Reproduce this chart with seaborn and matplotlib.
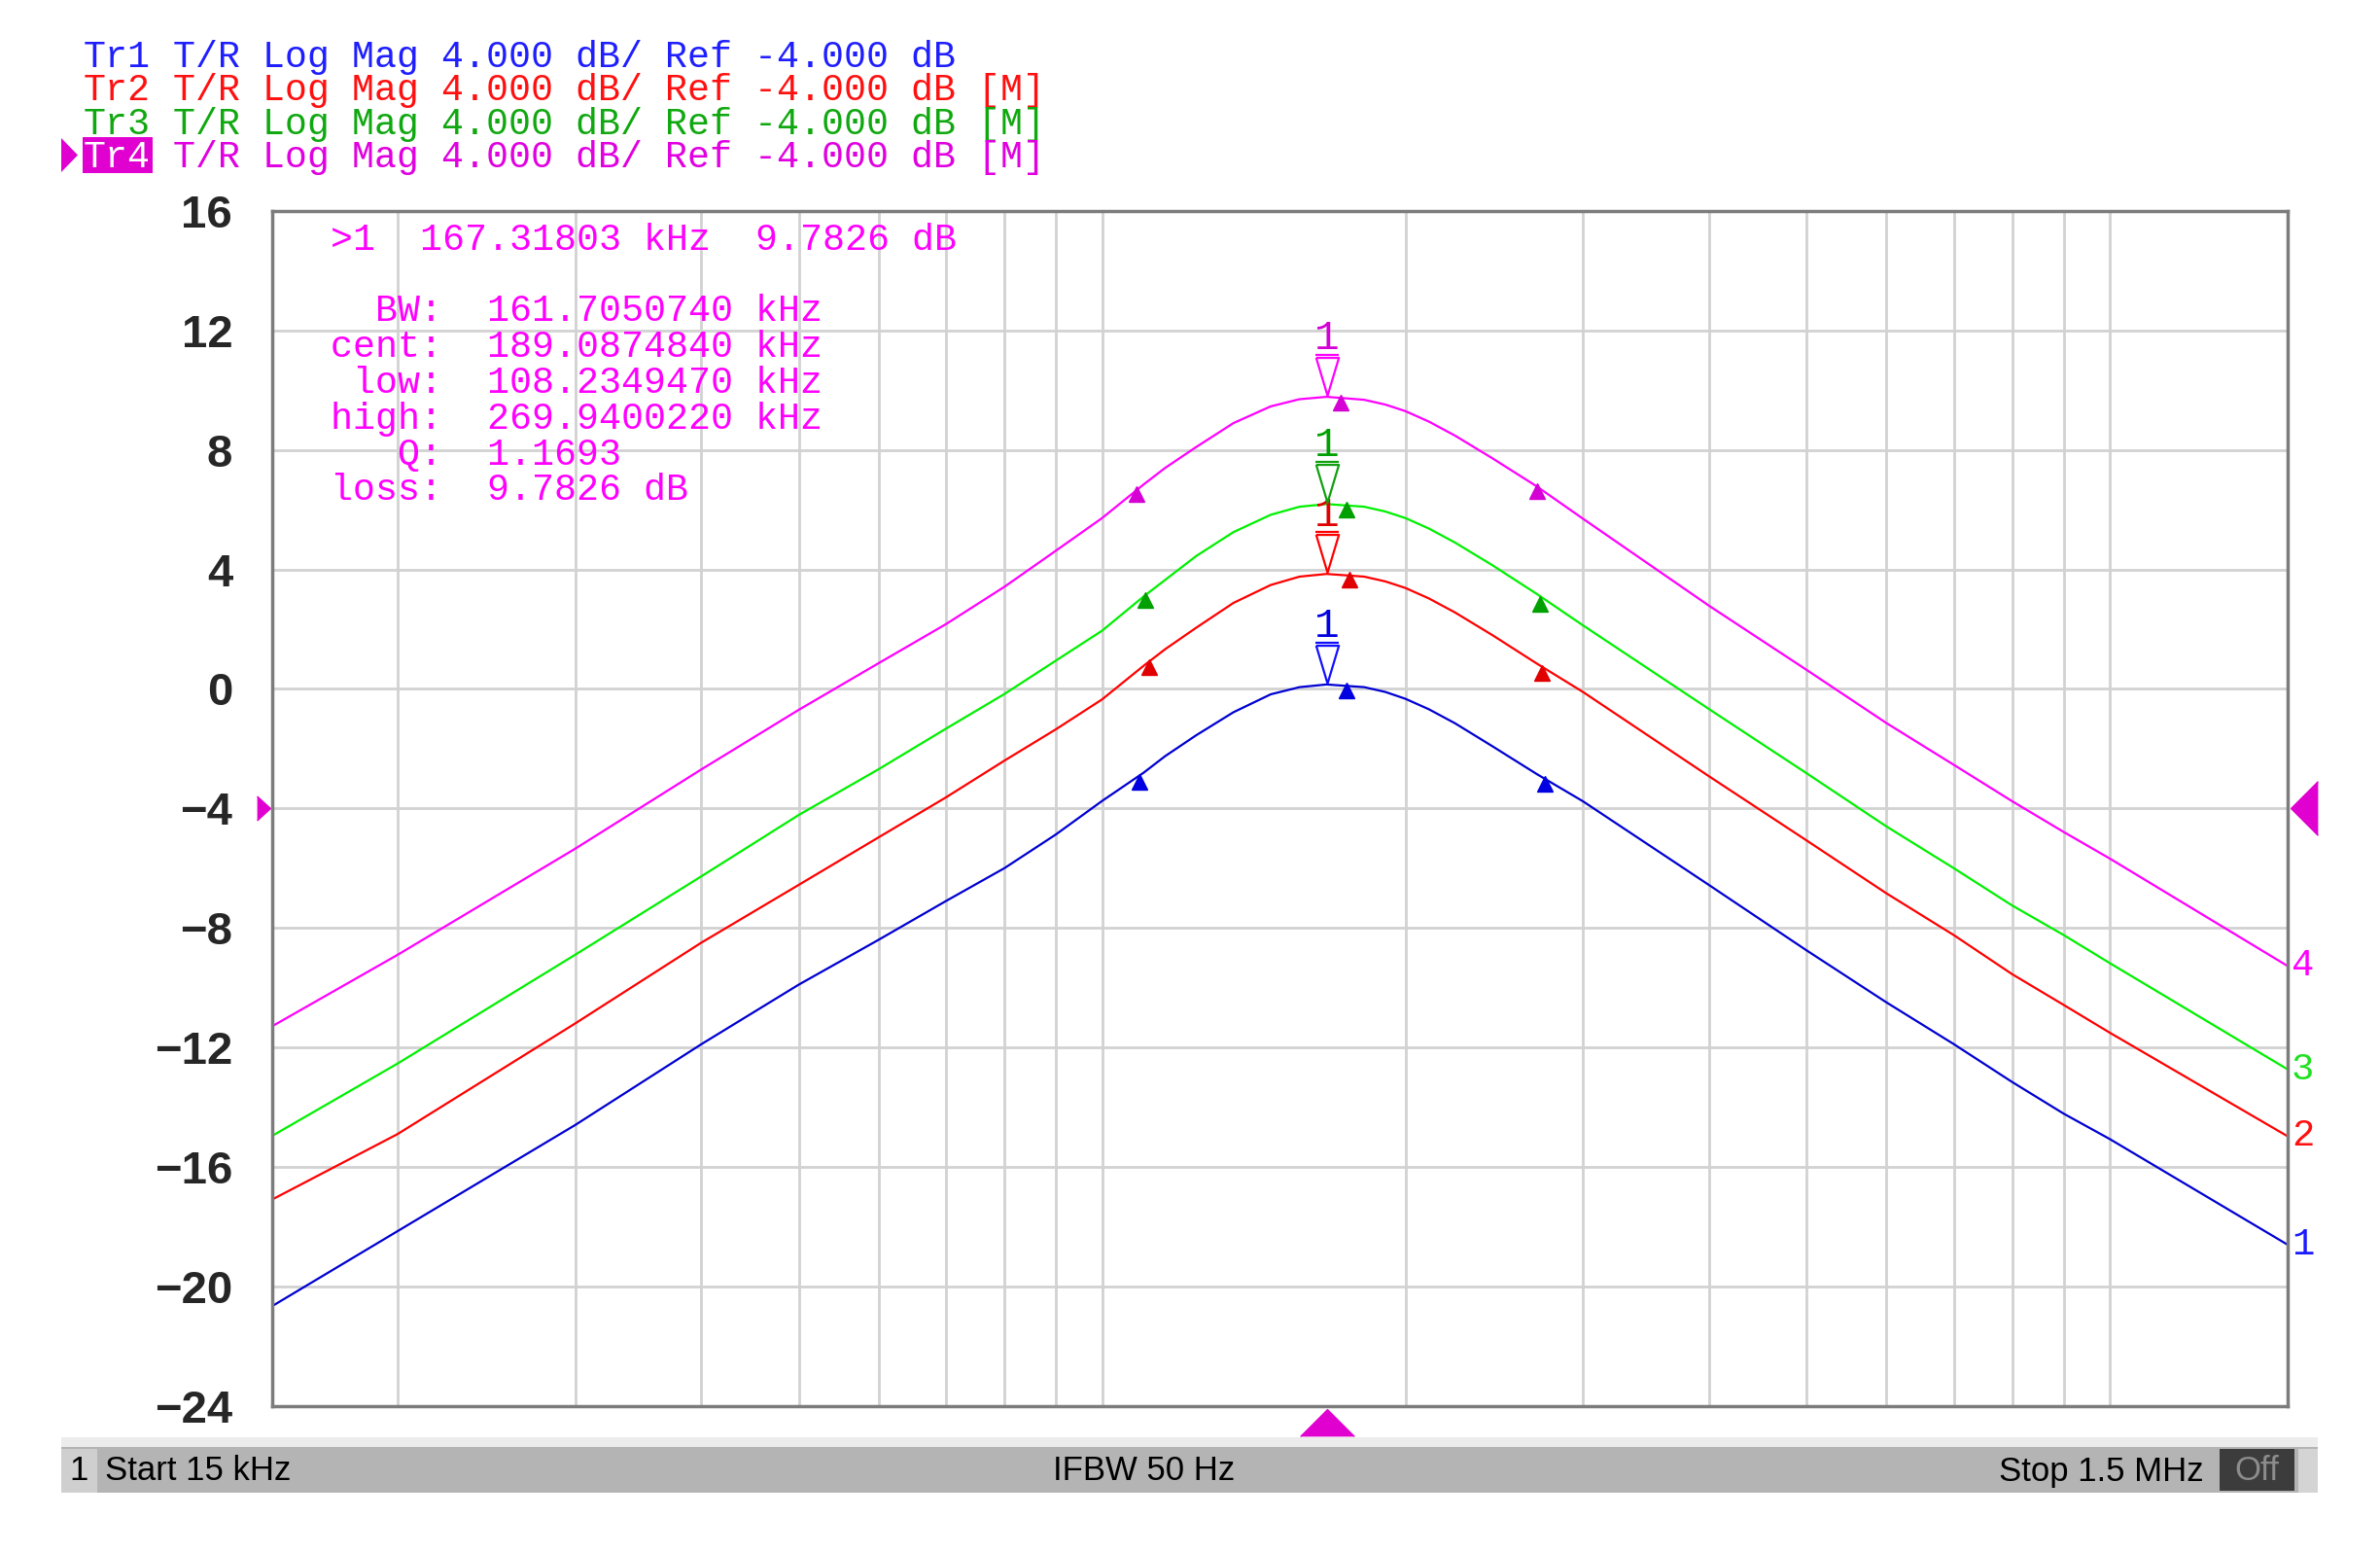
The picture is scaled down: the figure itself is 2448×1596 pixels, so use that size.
import matplotlib
matplotlib.use("Agg")
import matplotlib.pyplot as plt
import matplotlib.transforms as mtransforms
from matplotlib.patches import Rectangle, Polygon
from matplotlib.ticker import NullFormatter
import seaborn as sns
import pandas as pd

# frequency points (kHz), same grid for all four traces
freq_khz = [15, 20, 30, 40, 50, 60, 70, 80, 90, 100, 110, 115.5, 124, 135, 147, 157, 167,
            182, 191, 200, 211, 224, 244, 270, 300, 400, 500, 600, 700, 800, 900, 1000, 1500]
tr1_db = [-20.67, -18.15, -14.6, -11.9, -9.9, -8.4, -7.1, -6.0, -4.87, -3.75, -2.8,
          -2.25, -1.55, -0.78, -0.18, 0.06, 0.15, 0.06, -0.1, -0.33, -0.68, -1.15, -1.92,
          -2.85, -3.76, -6.56, -8.75, -10.49, -11.89, -13.16, -14.22, -15.07, -18.6]
tr2_db = [-17.1, -14.9, -11.2, -8.5, -6.56, -4.97, -3.63, -2.4, -1.35, -0.35, 0.78,
          1.33, 2.05, 2.88, 3.48, 3.76, 3.85, 3.76, 3.6, 3.38, 3.03, 2.56, 1.8,
          0.85, -0.1, -2.92, -5.07, -6.84, -8.24, -9.55, -10.58, -11.51, -14.97]
tr3_db = [-14.97, -12.54, -8.9, -6.28, -4.22, -2.69, -1.33, -0.17, 0.95, 1.95, 3.1,
          3.65, 4.45, 5.25, 5.83, 6.1, 6.19, 6.1, 5.94, 5.72, 5.37, 4.9, 4.14,
          3.18, 2.13, -0.67, -2.82, -4.6, -6.0, -7.25, -8.24, -9.18, -12.73]
tr4_db = [-11.3, -8.9, -5.35, -2.7, -0.7, 0.86, 2.17, 3.42, 4.63, 5.72, 6.85,
          7.4, 8.1, 8.9, 9.46, 9.7, 9.78, 9.68, 9.52, 9.3, 8.95, 8.48, 7.72,
          6.78, 5.7, 2.79, 0.64, -1.14, -2.54, -3.76, -4.79, -5.68, -9.27]

traces = ["Tr1", "Tr2", "Tr3", "Tr4"]
trace_db = [tr1_db, tr2_db, tr3_db, tr4_db]
trace_colors = ["#0000d2", "#ff0000", "#00f000", "#ff00ff"]
head_colors = ["#1e1eff", "#ff1010", "#10a810", "#e000e0"]
tri_colors = ["#0000e0", "#e00000", "#00a000", "#d400d4"]
open_colors = ["#1010ff", "#ff0000", "#10a010", "#ff00ff"]
num_colors = ["#1a1aff", "#ff1010", "#20e020", "#ff00ff"]

# marker 1 (167.31803 kHz) and bandwidth search triangles, per trace
mk1_khz = 167.31803
mk1_db = [0.15, 3.85, 6.19, 9.78]
bw_low_khz = [108.8, 111.4, 110.4, 108.2]
bw_low_db = [-2.95, 0.9, 3.15, 6.7]
bw_mid_khz = [175, 176, 175, 172.5]
bw_mid_db = [0.1, 3.82, 6.17, 9.75]
bw_high_khz = [275, 273, 272, 270]
bw_high_db = [-3.0, 0.7, 3.0, 6.78]

y_ticks = list(range(-24, 17, 4))
ref_level = -4
header_names = ["Tr1", "Tr2", "Tr3", "Tr4"]
header_rest = [
    "T/R Log Mag 4.000 dB/ Ref -4.000 dB",
    "T/R Log Mag 4.000 dB/ Ref -4.000 dB [M]",
    "T/R Log Mag 4.000 dB/ Ref -4.000 dB [M]",
    "T/R Log Mag 4.000 dB/ Ref -4.000 dB [M]",
]
marker_line = ">1  167.31803 kHz  9.7826 dB"
stats_lines = [
    "  BW:  161.7050740 kHz",
    "cent:  189.0874840 kHz",
    " low:  108.2349470 kHz",
    "high:  269.9400220 kHz",
    "   Q:  1.1693",
    "loss:  9.7826 dB",
]

W, H = 2448, 1596


def fx(px):
    return px / W


def fy(py):
    return 1 - py / H


rows = []
for name, vals in zip(traces, trace_db):
    for f, v in zip(freq_khz, vals):
        rows.append({"trace": name, "freq": f, "db": v})
df = pd.DataFrame(rows)

sns.set_style("white")
plt.rcParams["font.family"] = ["Liberation Sans", "DejaVu Sans"]

fig = plt.figure(figsize=(W / 100, H / 100), dpi=100)
ax = fig.add_axes([fx(279.5), fy(1445.7), fx(2352.7) - fx(279.5), fy(217) - fy(1445.7)])

sns.lineplot(data=df, x="freq", y="db", hue="trace", palette=dict(zip(traces, trace_colors)),
             estimator=None, sort=True, linewidth=1.6, legend=False, ax=ax)

ax.set_xscale("log")
ax.set_xlim(15, 1500)
ax.set_ylim(-24, 16)
ax.set_yticks(y_ticks)
ax.xaxis.set_major_formatter(NullFormatter())
ax.xaxis.set_minor_formatter(NullFormatter())
ax.grid(True, which="both", color="#d2d2d2", linewidth=2)
ax.tick_params(axis="x", which="both", length=0, labelbottom=False)
ax.tick_params(axis="y", length=0, pad=29, labelsize=34)
for lab in ax.get_yticklabels():
    lab.set_fontweight("bold")
ax.set_xlabel("")
ax.set_ylabel("")
for sp in ax.spines.values():
    sp.set_color("#7c7c7c")
    sp.set_linewidth(2.5)
    sp.set_visible(True)

mono = ["Liberation Mono", "DejaVu Sans Mono"]
open_tri = [(-0.6, 1), (0.6, 1), (0, -1), (-0.6, 1)]

# markers on the traces
for i in range(4):
    up = mtransforms.offset_copy(ax.transData, fig=fig, x=0, y=21, units="dots")
    ax.plot([mk1_khz], [mk1_db[i]], transform=up, marker=open_tri,
            markersize=28, markerfacecolor="white", markeredgecolor=open_colors[i],
            markeredgewidth=1.6, linestyle="none", zorder=5)
    bar = mtransforms.offset_copy(ax.transData, fig=fig, x=0, y=43, units="dots")
    ax.plot([mk1_khz], [mk1_db[i]], transform=bar, marker="_", markersize=17,
            markeredgewidth=1.6, color=open_colors[i], linestyle="none", zorder=5)
    ax.annotate("1", xy=(mk1_khz, mk1_db[i]), xytext=(0, 60), textcoords="offset pixels",
                ha="center", va="center", color=tri_colors[i], fontsize=31, family=mono)
    down = mtransforms.offset_copy(ax.transData, fig=fig, x=0, y=-5, units="dots")
    ax.plot([bw_low_khz[i], bw_mid_khz[i], bw_high_khz[i]],
            [bw_low_db[i], bw_mid_db[i], bw_high_db[i]], transform=down,
            marker="^", markersize=11, color=tri_colors[i], linestyle="none", zorder=6)

# trace numbers at right edge
right = mtransforms.blended_transform_factory(ax.transAxes, ax.transData)
for i in range(4):
    ax.text(1.002, trace_db[i][-1], str(i + 1), transform=right, ha="left", va="center",
            color=num_colors[i], fontsize=28, family=mono, clip_on=False)

# reference level and stimulus markers
ax.plot([-0.0041], [ref_level], transform=right, marker=[(-0.55, 1), (0.55, 0), (-0.55, -1)],
        markersize=18, color="#e000d0", linestyle="none", clip_on=False)
ax.plot([1.0083], [ref_level], transform=right, marker=[(0.5, 1), (-0.5, 0), (0.5, -1)],
        markersize=40, color="#e000d0", linestyle="none", clip_on=False)
bottom = mtransforms.blended_transform_factory(ax.transData, ax.transAxes)
ax.plot([mk1_khz], [-0.0141], transform=bottom, marker=[(-1, -0.5), (0, 0.5), (1, -0.5)],
        markersize=40, color="#e000d0", linestyle="none", clip_on=False)

# marker readout
ax.text(fx(340), fy(247), marker_line, transform=fig.transFigure, ha="left", va="center",
        color="#ff00ff", fontsize=27.5, family=mono)
for k, line in enumerate(stats_lines):
    ax.text(fx(340), fy(320.5 + 36.8 * k), line, transform=fig.transFigure, ha="left",
            va="center", color="#ff00ff", fontsize=27.5, family=mono)

# header
char_w = 22.9
fig.patches.append(Rectangle((fx(85), fy(178)), fx(157) - fx(85), fy(141) - fy(178),
                             transform=fig.transFigure, facecolor="#e000d0", edgecolor="none"))
fig.patches.append(Polygon([(fx(63), fy(142)), (fx(80), fy(159.5)), (fx(63), fy(177))],
                           closed=True, transform=fig.transFigure, facecolor="#e000d0",
                           edgecolor="none"))
for k in range(4):
    yy = fy(59 + 34.3 * k)
    fig.text(fx(86), yy, header_names[k], ha="left", va="center",
             color="white" if k == 3 else head_colors[k], fontsize=27.5, family=mono)
    fig.text(fx(86 + 4 * char_w), yy, header_rest[k], ha="left", va="center",
             color=head_colors[k], fontsize=27.5, family=mono)

# status bar
fig.patches.append(Rectangle((fx(63), fy(1488)), fx(2384) - fx(63), fy(1478) - fy(1488),
                             transform=fig.transFigure, facecolor="#ececec", edgecolor="none"))
fig.patches.append(Rectangle((fx(63), fy(1535)), fx(2384) - fx(63), fy(1488) - fy(1535),
                             transform=fig.transFigure, facecolor="#b4b4b4", edgecolor="none"))
fig.patches.append(Rectangle((fx(63), fy(1535)), fx(100) - fx(63), fy(1490) - fy(1535),
                             transform=fig.transFigure, facecolor="#cfcfcf", edgecolor="none"))
fig.patches.append(Rectangle((fx(2283), fy(1533)), fx(2360) - fx(2283), fy(1490) - fy(1533),
                             transform=fig.transFigure, facecolor="#3c3c3c", edgecolor="none"))
fig.patches.append(Rectangle((fx(2364), fy(1535)), fx(2384) - fx(2364), fy(1490) - fy(1535),
                             transform=fig.transFigure, facecolor="#d4d4d4", edgecolor="none"))
bar_y = fy(1513)
fig.text(fx(81), bar_y, "1", ha="center", va="center", fontsize=25, color="black")
fig.text(fx(108), bar_y, "Start 15 kHz", ha="left", va="center", fontsize=25, color="black")
fig.text(fx(1177), bar_y, "IFBW 50 Hz", ha="center", va="center", fontsize=25, color="black")
fig.text(fx(2267), bar_y, "Stop 1.5 MHz", ha="right", va="center", fontsize=25, color="black")
fig.text(fx(2321), bar_y, "Off", ha="center", va="center", fontsize=25, color="#8c8c8c")

fig.savefig("out.png", dpi=100, facecolor="white")
